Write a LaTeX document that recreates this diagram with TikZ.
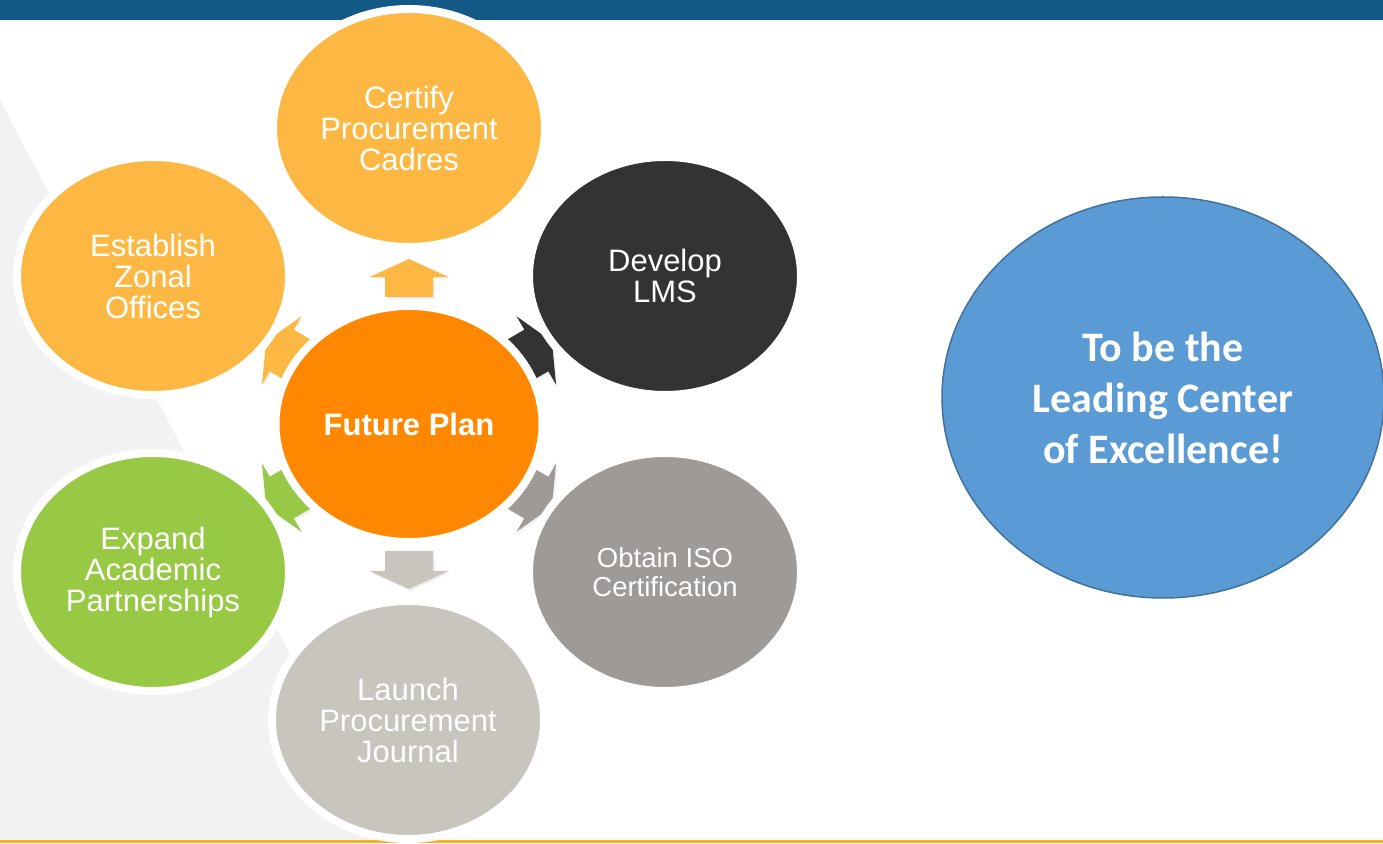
\documentclass[tikz,border=0pt]{standalone}
\usepackage{fontspec}
\setmainfont{Liberation Sans}
\newfontfamily\calib{Carlito}
\usetikzlibrary{shapes.geometric,shadows}
\definecolor{barblue}{HTML}{125985}
\definecolor{goldline}{HTML}{F5B21A}
\definecolor{bggray}{HTML}{F2F2F2}
\definecolor{lorange}{HTML}{FDB843}
\definecolor{dorange}{HTML}{FF8800}
\definecolor{darkc}{HTML}{333333}
\definecolor{isoc}{HTML}{9E9A98}
\definecolor{launchc}{HTML}{C8C4BE}
\definecolor{greenc}{HTML}{97C945}
\definecolor{rblue}{HTML}{5B9BD5}
\definecolor{rborder}{HTML}{41719C}
\begin{document}
\begin{tikzpicture}[x=1pt,y=1pt,
  bub/.style={ellipse, draw=white, line width=8pt, minimum width=272pt, minimum height=238pt,
    inner sep=0pt, text=white, align=center, font=\fontsize{31}{31}\selectfont,
    drop shadow={shadow xshift=2pt, shadow yshift=-3pt, opacity=0.16}},
  blockarr/.style={drop shadow={shadow xshift=1.5pt, shadow yshift=-2pt, opacity=0.12}}
  ]
\useasboundingbox (0,0) rectangle (1383,843);
% background
\fill[bggray] (0,743) -- (389,0) -- (0,0) -- cycle;
\fill[barblue] (0,823) rectangle (1383,843);
\fill[goldline] (0,0) rectangle (1383,3);
% arrows
\coordinate (ctr) at (409,419);
\foreach \a/\c in {90/lorange, 30/darkc, -30/isoc, -90/launchc, -150/greenc, 150/lorange}{
  \path[fill=\c, blockarr, shift={(ctr)}, rotate=\a]
    (127,-24) -- (147,-24) -- (147,-39.5) -- (165,0) -- (147,39.5) -- (147,24) -- (127,24) -- cycle;
}
% bubbles
\node[bub, fill=lorange] (certify) at (409,715) {Certify\\Procurement\\Cadres};
\node[bub, fill=darkc] (develop) at (665,567) {Develop\\LMS};
\node[bub, fill=isoc, font=\fontsize{27.5}{29}\selectfont] (iso) at (665,271) {Obtain ISO\\Certification};
\node[bub, fill=launchc] (launch) at (408,123) {Launch\\Procurement\\Journal};
\node[bub, fill=greenc] (expand) at (153,271) {Expand\\Academic\\Partnerships};
\node[bub, fill=lorange] (establish) at (153,567) {Establish\\Zonal\\Offices};
\node[bub, fill=dorange, minimum width=267pt, minimum height=236pt,
  font=\bfseries\fontsize{31}{31}\selectfont] (future) at (ctr) {Future Plan};
% vision
\node[ellipse, fill=rblue, draw=rborder, line width=1.5pt, minimum width=442pt, minimum height=401pt,
  inner sep=0pt, text=white, align=center, font=\calib\bfseries\fontsize{42}{51}\selectfont]
  (vision) at (1163,445.5) {To be the\\Leading Center\\of Excellence!};
\end{tikzpicture}
\end{document}
